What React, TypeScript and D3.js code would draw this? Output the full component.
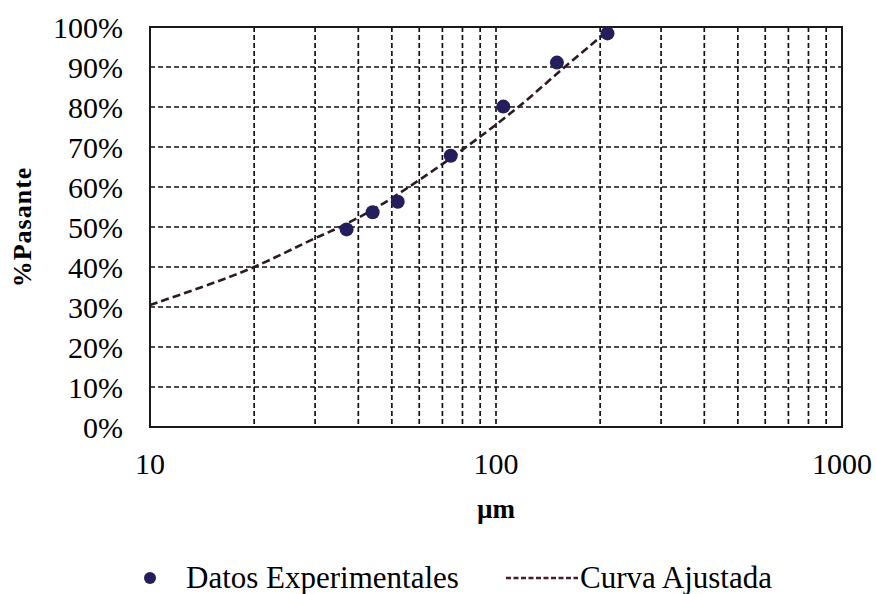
import React from "react";
import * as d3 from "d3";

// Particle size distribution: experimental sieve data and fitted curve
const sizeMicrons = [37, 44, 52, 74, 105, 150, 210];
const passingPct = [49.4, 53.7, 56.3, 67.8, 80.1, 91.1, 98.4];

const fitSize = [10, 15, 20, 30, 36, 45, 56, 82, 116, 158, 209];
const fitPassing = [30.5, 35.8, 40, 47.2, 50.3, 54.8, 60, 70, 80, 90, 98.8];

const yTicks = [0, 10, 20, 30, 40, 50, 60, 70, 80, 90, 100];
const xTickLabels = [10, 100, 1000];

const W = 876;
const H = 594;
const plot = { left: 150, right: 842, top: 27, bottom: 427 };

export default function App() {
  const x = d3.scaleLog().domain([10, 1000]).range([plot.left, plot.right]);
  const y = d3.scaleLinear().domain([0, 100]).range([plot.bottom, plot.top]);

  const gridX = x.ticks().filter((t) => t > 10 && t < 1000);
  const gridY = yTicks.filter((t) => t > 0 && t < 100);

  const fit = fitSize.map((s, i) => [s, fitPassing[i]] as [number, number]);
  const line = d3
    .line<[number, number]>()
    .x((d) => x(d[0]))
    .y((d) => y(d[1]))
    .curve(d3.curveCatmullRom);

  const font = "Liberation Serif, DejaVu Serif, serif";

  return (
    <svg
      width={W}
      height={H}
      style={{ position: "absolute", left: 0, top: 0, background: "#fff", fontFamily: font }}
    >
      {/* grid */}
      <g stroke="#111" strokeWidth={1.7} strokeDasharray="5,3">
        {gridX.map((t) => (
          <line key={"gx" + t} x1={x(t)} x2={x(t)} y1={plot.top} y2={plot.bottom} />
        ))}
        {gridY.map((t) => (
          <line key={"gy" + t} x1={plot.left} x2={plot.right} y1={y(t)} y2={y(t)} />
        ))}
      </g>

      {/* frame */}
      <rect
        x={plot.left}
        y={plot.top}
        width={plot.right - plot.left}
        height={plot.bottom - plot.top}
        fill="none"
        stroke="#1a1a1a"
        strokeWidth={2}
      />

      {/* fitted curve */}
      <path
        d={line(fit) ?? ""}
        fill="none"
        stroke="#2e1a22"
        strokeWidth={2.6}
        strokeDasharray="8,4"
      />

      {/* experimental points */}
      {sizeMicrons.map((s, i) => (
        <circle key={"p" + i} cx={x(s)} cy={y(passingPct[i])} r={7} fill="#241f5c" />
      ))}

      {/* y axis labels */}
      {yTicks.map((t) => (
        <text
          key={"yl" + t}
          x={123}
          y={y(t)}
          dy="0.35em"
          textAnchor="end"
          fontSize={30}
          fill="#000"
        >
          {t}%
        </text>
      ))}

      {/* x axis labels */}
      {xTickLabels.map((t) => (
        <text key={"xl" + t} x={x(t)} y={474} textAnchor="middle" fontSize={30} fill="#000">
          {t}
        </text>
      ))}

      {/* axis titles */}
      <text x={x(100)} y={518} textAnchor="middle" fontSize={27} fontWeight="bold">
        µm
      </text>
      <text
        transform={`translate(31,${(plot.top + plot.bottom) / 2}) rotate(-90)`}
        textAnchor="middle"
        fontSize={26}
        fontWeight="bold"
        letterSpacing={1}
      >
        %Pasante
      </text>

      {/* legend */}
      <circle cx={150} cy={578} r={6} fill="#241f5c" />
      <text x={186} y={588} fontSize={31}>
        Datos Experimentales
      </text>
      <line
        x1={506}
        x2={578}
        y1={578}
        y2={578}
        stroke="#4a1a28"
        strokeWidth={2.4}
        strokeDasharray="5,2.5"
      />
      <text x={580} y={588} fontSize={31}>
        Curva Ajustada
      </text>
    </svg>
  );
}
